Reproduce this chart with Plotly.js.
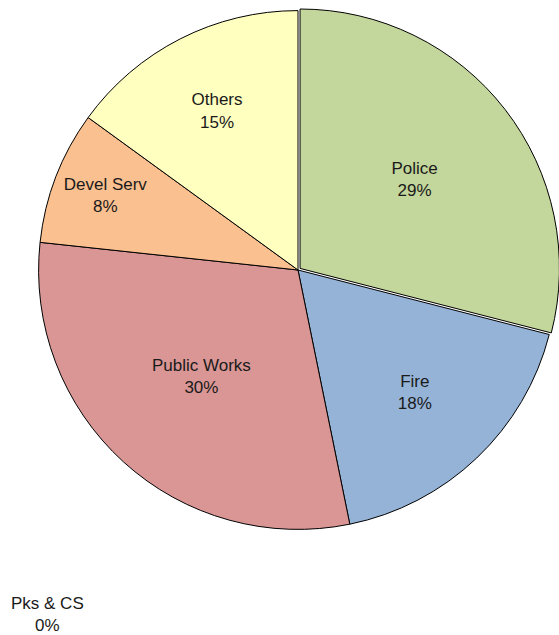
<!DOCTYPE html>
<html>
<head>
<meta charset="utf-8">
<script src="https://cdn.plot.ly/plotly-3.0.1.min.js"></script>
<style>
html,body{margin:0;padding:0;overflow:hidden;background:#fff;width:559px;height:635px;}
#chart{width:598px;height:635px;}
</style>
</head>
<body>
<div id="chart"></div>
<script>
// Data (shares, percent)
var categories = ["Police", "Fire", "Public Works", "Devel Serv", "Others"];
var values = [29.0, 17.8, 29.9, 8.3, 15.0];
var colors = ["#C3D69B", "#95B3D7", "#D99694", "#FAC090", "#FFFFC0"];
var pulls = [0.01, 0, 0, 0, 0];
var zeroCategory = "Pks & CS";
var zeroValue = 0;

var total = values.reduce(function(a, b){ return a + b; }, 0) + zeroValue;
var zeroPct = Math.round(zeroValue / total * 100);

var trace = {
  type: "pie",
  labels: categories,
  values: values,
  sort: false,
  direction: "clockwise",
  rotation: 0,
  pull: pulls,
  marker: { colors: colors, line: { color: "#000000", width: 1 } },
  texttemplate: "%{label}<br>%{percent:.0%}",
  textposition: "inside",
  insidetextorientation: "horizontal",
  textfont: { family: "Liberation Sans, Arial, sans-serif", size: 17, color: "#1a1a1a" },
  hoverinfo: "label+percent",
  showlegend: false
};

var layout = {
  width: 598,
  height: 635,
  margin: { l: 36, r: 38, t: 8, b: 103 },
  paper_bgcolor: "#ffffff",
  plot_bgcolor: "#ffffff",
  showlegend: false,
  annotations: [{
    xref: "paper", yref: "paper",
    x: 0.021, y: -0.157,
    xanchor: "center", yanchor: "middle",
    showarrow: false,
    text: zeroCategory + "<br>" + zeroPct + "%",
    font: { family: "Liberation Sans, Arial, sans-serif", size: 17, color: "#1a1a1a" }
  }]
};

Plotly.newPlot("chart", [trace], layout, { staticPlot: true, displayModeBar: false });
</script>
</body>
</html>
